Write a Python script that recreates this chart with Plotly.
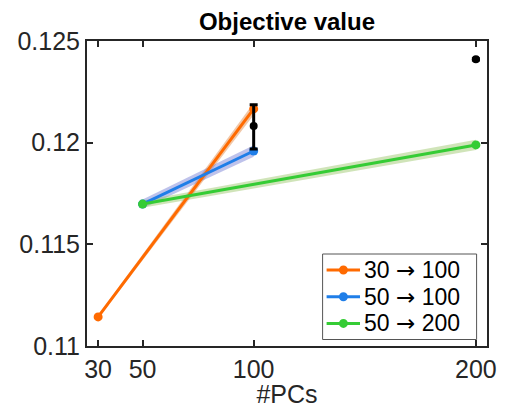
import plotly.graph_objects as go

# Data
x_orange = [30, 100]
y_orange = [0.11143, 0.12166]
band_orange = [0.00008, 0.00030]

x_blue = [50, 100]
y_blue = [0.11698, 0.11959]
band_blue = [0.00022, 0.00028]

x_green = [50, 200]
y_green = [0.11698, 0.11989]
band_green = [0.00018, 0.00025]

x_black = [100, 200]
y_black = [0.12082, 0.12410]
err_plus = [0.00105, 0.00003]
err_minus = [0.00113, 0.00003]

x_ticks = [30, 50, 100, 200]
y_ticks = [0.11, 0.115, 0.12, 0.125]
y_ticklabels = ["0.11", "0.115", "0.12", "0.125"]

ARROW = "<span style='font-family:DejaVu Sans'>\u2192</span>"
labels = ["30 " + ARROW + " 100", "50 " + ARROW + " 100", "50 " + ARROW + " 200"]
line_colors = ["#ff6a00", "#1f7ee8", "#35cc35"]
band_colors = ["rgba(225,130,60,0.45)", "rgba(110,120,210,0.45)", "rgba(150,195,100,0.45)"]

FONT = "Liberation Sans, Arial, Helvetica, sans-serif"

fig = go.Figure()

series = [(x_orange, y_orange, band_orange), (x_blue, y_blue, band_blue), (x_green, y_green, band_green)]

# bands
for (xs, ys, bw), bc in zip(series, band_colors):
    upper = [y + b for y, b in zip(ys, bw)]
    lower = [y - b for y, b in zip(ys, bw)]
    fig.add_trace(go.Scatter(
        x=xs + xs[::-1], y=upper + lower[::-1], fill="toself", fillcolor=bc,
        line=dict(width=0), mode="lines", hoverinfo="skip", showlegend=False))

# lines
for (xs, ys, bw), lc, lab in zip(series, line_colors, labels):
    fig.add_trace(go.Scatter(
        x=xs, y=ys, mode="lines+markers", name=lab, showlegend=False,
        line=dict(color=lc, width=3), marker=dict(color=lc, size=9)))

# black error bars
fig.add_trace(go.Scatter(
    x=x_black, y=y_black, mode="markers", showlegend=False,
    marker=dict(color="black", size=8),
    error_y=dict(type="data", symmetric=False, array=err_plus, arrayminus=err_minus,
                 color="black", thickness=3, width=4)))

# compact legend (MATLAB style) drawn in paper coordinates
legend_box = dict(x0=0.589, x1=0.974, y0=0.0213, y1=0.3016)
row_y = [0.2492, 0.1616, 0.0741]
fig.add_shape(type="rect", xref="paper", yref="paper", **legend_box,
              line=dict(color="#555555", width=1), fillcolor="white", layer="above")
for ry, lc, lab in zip(row_y, line_colors, labels):
    fig.add_shape(type="line", xref="paper", yref="paper", x0=0.599, x1=0.6825, y0=ry, y1=ry,
                  line=dict(color=lc, width=3), layer="above")
    fig.add_shape(type="circle", xref="paper", yref="paper",
                  x0=0.641 - 0.0112, x1=0.641 + 0.0112, y0=ry - 0.0148, y1=ry + 0.0148,
                  line=dict(width=0), fillcolor=lc, layer="above")
    fig.add_annotation(xref="paper", yref="paper", x=0.689, y=ry, xanchor="left", yanchor="middle",
                       text=lab, showarrow=False, borderpad=0,
                       font=dict(family=FONT, size=23, color="black"))

axis_common = dict(
    showline=True, linecolor="#262626", linewidth=2, mirror="allticks",
    ticks="inside", ticklen=6, tickwidth=1.5, tickcolor="#262626",
    showgrid=False, zeroline=False, automargin=False,
    tickfont=dict(family=FONT, size=25, color="#262626"),
)

fig.update_layout(
    width=498, height=400,
    margin=dict(l=79, r=19, t=33, b=62, autoexpand=False),
    paper_bgcolor="white", plot_bgcolor="white",
    title=dict(text="<b>Objective value</b>", x=0.5, xref="paper", xanchor="center",
               y=0.966, yref="container", yanchor="middle",
               font=dict(family=FONT, size=24, color="black")),
    xaxis=dict(range=[25, 205], tickvals=x_ticks, ticktext=[str(v) for v in x_ticks],
               title=dict(text="#PCs", font=dict(family=FONT, size=25, color="#262626"), standoff=2),
               **axis_common),
    yaxis=dict(range=[0.11, 0.125], tickvals=y_ticks, ticktext=y_ticklabels, **axis_common),
    showlegend=False,
)

fig.write_html("out.html")
